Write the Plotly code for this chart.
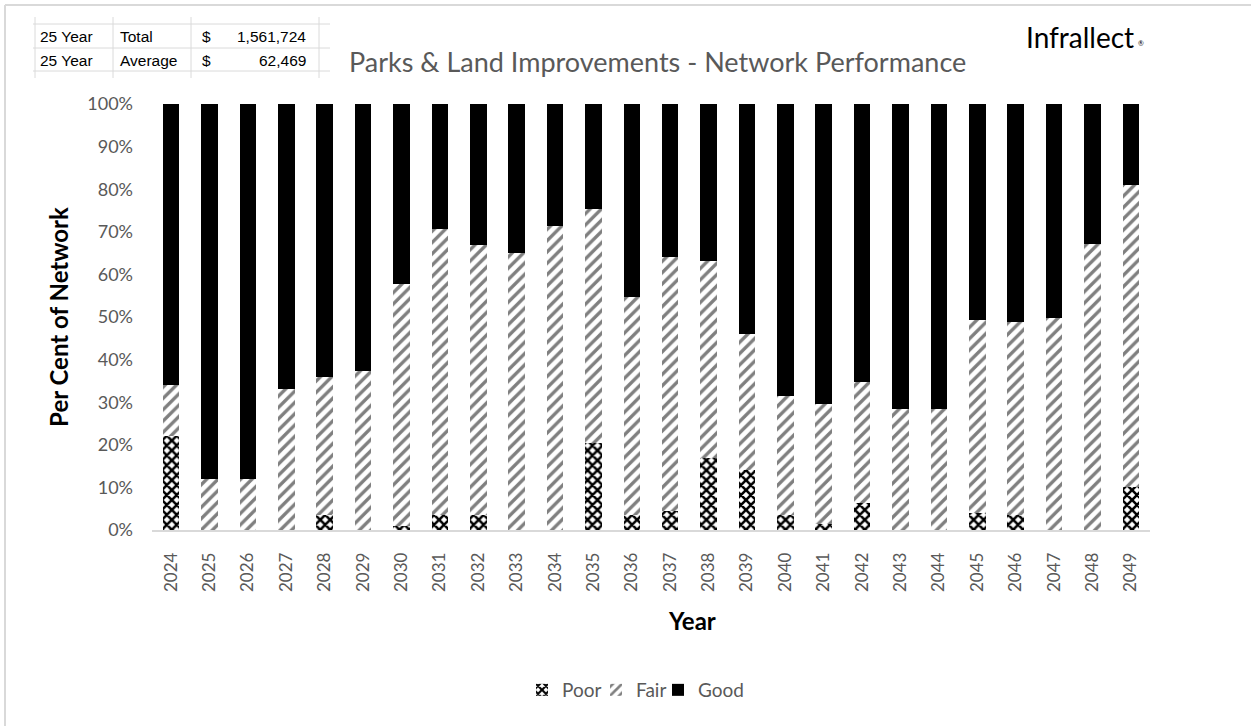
import plotly.graph_objects as go

years = [str(y) for y in range(2024, 2050)]
poor = [22, 0, 0, 0, 3.5, 0, 1, 3.5, 3.5, 0, 0, 20.5, 3.5, 4.5, 17, 14, 3.5, 1.5, 6.3, 0, 0, 4, 3.5, 0, 0, 10]
poor_fair = [34, 12, 12, 33, 36, 37.3, 57.7, 70.6, 66.9, 65, 71.3, 75.4, 54.8, 64.2, 63.1, 45.9, 31.5, 29.5, 34.8, 28.5, 28.5, 49.3, 48.8, 49.7, 67.1, 81]
fair = [round(pf - p, 2) for pf, p in zip(poor_fair, poor)]
good = [round(100 - pf, 2) for pf in poor_fair]
ytick_vals = [i / 10 for i in range(11)]
ytick_text = [f"{i*10}%" for i in range(11)]
table_rows = [["25 Year", "Total", "$", "1,561,724"], ["25 Year", "Average", "$", "62,469"]]

W, H = 1251, 726
L, R, T, B = 152, 101, 104, 196
PW, PH = W - L - R, H - T - B


def px(x):
    return (x - L) / PW


def py(y):
    return (H - B - y) / PH


FONT = "Lato, Carlito, Calibri, sans-serif"
GRAY = "#595959"

fig = go.Figure()
fig.add_trace(go.Bar(
    name="Poor", x=years, y=[v / 100 for v in poor], legend="legend",
    marker=dict(color="white", line=dict(width=0),
                pattern=dict(shape="x", fgcolor="black", bgcolor="white", fgopacity=1,
                             size=7, solidity=0.6)),
))
fig.add_trace(go.Bar(
    name="Fair", x=years, y=[v / 100 for v in fair], legend="legend2",
    marker=dict(color="white", line=dict(width=0),
                pattern=dict(shape="/", fgcolor="#7f7f7f", bgcolor="white", fgopacity=1,
                             size=8, solidity=0.42)),
))
fig.add_trace(go.Bar(
    name="Good", x=years, y=[v / 100 for v in good], legend="legend3",
    marker=dict(color="black", line=dict(width=0)),
))

shapes = []
# outer chart border (top & left visible)
shapes.append(dict(type="line", xref="paper", yref="paper", x0=px(5), x1=px(1251), y0=py(5), y1=py(5),
                   line=dict(color="#d9d9d9", width=2)))
shapes.append(dict(type="line", xref="paper", yref="paper", x0=px(5), x1=px(5), y0=py(5), y1=py(726),
                   line=dict(color="#d9d9d9", width=2)))
# spreadsheet grid overlay
for yy in [24, 48, 71]:
    shapes.append(dict(type="line", xref="paper", yref="paper", x0=px(33), x1=px(330), y0=py(yy), y1=py(yy),
                       line=dict(color="#dadada", width=1)))
for xx in [35, 113, 191, 319]:
    shapes.append(dict(type="line", xref="paper", yref="paper", x0=px(xx), x1=px(xx), y0=py(17), y1=py(78),
                       line=dict(color="#dadada", width=1)))

annotations = []
cell_x = [(38, "left"), (118, "left"), (200, "left"), (308, "right")]
for r, row in enumerate(table_rows):
    yc = 36.5 + r * 23.5
    for c, txt in enumerate(row):
        xx, al = cell_x[c]
        annotations.append(dict(text=txt, xref="paper", yref="paper", x=px(xx), y=py(yc),
                                xanchor=al, yanchor="middle", showarrow=False,
                                font=dict(family="Liberation Sans, Arial, sans-serif", size=15.5, color="black")))
annotations.append(dict(text="Parks & Land Improvements - Network Performance", xref="paper", yref="paper",
                        x=px(657), y=py(62), xanchor="center", yanchor="middle", showarrow=False,
                        font=dict(family=FONT, size=27, color=GRAY)))
annotations.append(dict(text="Infrallect", xref="paper", yref="paper",
                        x=px(1024), y=py(37), xanchor="left", yanchor="middle", showarrow=False,
                        font=dict(family=FONT, size=28, color="black")))
annotations.append(dict(text="®", xref="paper", yref="paper",
                        x=px(1136), y=py(43), xanchor="left", yanchor="middle", showarrow=False,
                        font=dict(family=FONT, size=7, color="black")))
# x-axis title (offset right of centre as in the reference)
annotations.append(dict(text="<b>Year</b>", xref="paper", yref="paper", x=px(692), y=py(620),
                        xanchor="center", yanchor="middle", showarrow=False,
                        font=dict(family=FONT, size=24, color="black")))

leg_common = dict(orientation="h", yanchor="middle", xanchor="left",
                  font=dict(size=19, color=GRAY), itemwidth=30, bgcolor="rgba(0,0,0,0)")
fig.update_layout(
    width=W, height=H,
    margin=dict(l=L, r=R, t=T, b=B, autoexpand=False),
    paper_bgcolor="white", plot_bgcolor="white",
    barmode="stack", bargap=0.57,
    font=dict(family=FONT, color=GRAY),
    showlegend=True,
    legend=dict(x=px(522), y=py(690), **leg_common),
    legend2=dict(x=px(596), y=py(690), **leg_common),
    legend3=dict(x=px(658), y=py(690), **leg_common),
    shapes=shapes, annotations=annotations,
)
fig.update_xaxes(
    type="category", tickangle=-90, tickfont=dict(size=17, color=GRAY),
    showline=True, linecolor="#d9d9d9", linewidth=1.5, ticks="", showgrid=False,
    ticklabelstandoff=14,
)
fig.update_yaxes(
    range=[0, 1], tickvals=ytick_vals, ticktext=ytick_text, tickfont=dict(size=18, color=GRAY),
    showgrid=False, showline=False, zeroline=False, ticks="",
    title=dict(text="<b>Per Cent of Network</b>", font=dict(size=24, color="black"), standoff=11),
    ticklabelstandoff=18,
)

fig.write_html("out.html", config={"displayModeBar": False},
               post_script="document.body.style.margin='0';")
